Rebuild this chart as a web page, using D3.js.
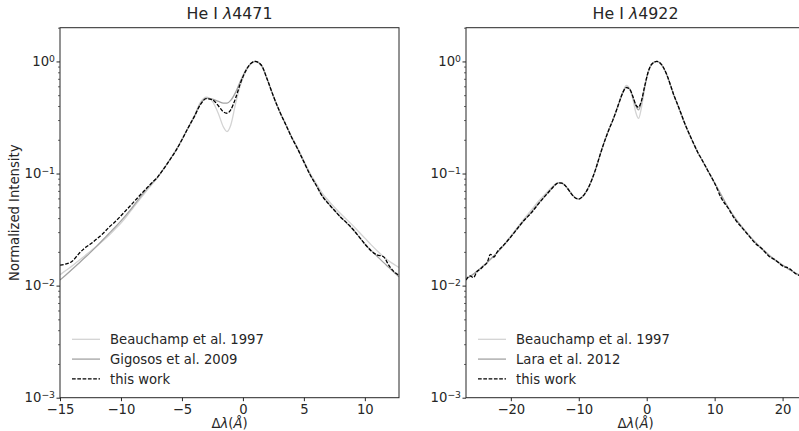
<!DOCTYPE html>
<html>
<head>
<meta charset="utf-8">
<script src="https://cdn.jsdelivr.net/npm/d3@7/dist/d3.min.js"></script>
<style>
	body { margin: 0; background: #fff; }
	svg { display: block; font-family: "DejaVu Sans", sans-serif; }
</style>
</head>
<body>
<svg id="chart" width="799" height="431"></svg>
<script>
// He I 4471 panel
var wave4471 = [-15, -14.5, -14, -13.5, -13, -12.5, -12, -11.5, -11, -10.5, -10, -9.5, -9, -8.5, -8, -7.5, -7, -6.5, -6, -5.5, -5, -4.5, -4, -3.5, -3, -2.5, -2, -1.6, -1.3, -1, -0.6, -0.2, 0.3, 0.7, 1, 1.5, 2, 2.5, 3, 3.5, 4, 4.5, 5, 5.5, 6, 6.5, 7, 7.5, 8, 8.5, 9, 9.5, 10, 10.5, 11, 11.5, 12, 12.5, 12.8];
var beauchamp4471 = [0.0125, 0.0137, 0.0150, 0.0166, 0.0183, 0.0203, 0.0225, 0.0250, 0.0280, 0.0318, 0.0362, 0.0420, 0.0495, 0.0580, 0.0680, 0.0790, 0.0920, 0.1100, 0.1330, 0.1620, 0.2020, 0.2560, 0.3250, 0.4300, 0.4800, 0.4400, 0.3400, 0.2600, 0.2370, 0.2700, 0.4200, 0.6200, 0.8400, 0.9600, 0.9900, 0.9200, 0.6850, 0.4900, 0.3620, 0.2770, 0.2130, 0.1680, 0.1300, 0.1010, 0.0820, 0.0670, 0.0575, 0.0500, 0.0440, 0.0390, 0.0345, 0.0302, 0.0265, 0.0232, 0.0205, 0.0182, 0.0165, 0.0152, 0.0145];
var gigosos4471 = [0.0112, 0.0125, 0.0140, 0.0157, 0.0176, 0.0198, 0.0224, 0.0255, 0.0290, 0.0330, 0.0378, 0.0437, 0.0510, 0.0600, 0.0705, 0.0810, 0.0925, 0.1100, 0.1320, 0.1600, 0.2000, 0.2550, 0.3200, 0.4150, 0.4700, 0.4600, 0.4400, 0.4250, 0.4250, 0.4500, 0.5300, 0.6700, 0.8600, 0.9700, 1.0000, 0.9300, 0.6900, 0.4900, 0.3600, 0.2750, 0.2100, 0.1650, 0.1270, 0.0980, 0.0790, 0.0635, 0.0545, 0.0470, 0.0410, 0.0362, 0.0318, 0.0275, 0.0235, 0.0207, 0.0183, 0.0162, 0.0144, 0.0128, 0.0120];
var thisWork4471 = [0.0152, 0.0156, 0.0165, 0.0190, 0.0215, 0.0235, 0.0260, 0.0290, 0.0330, 0.0370, 0.0420, 0.0480, 0.0550, 0.0630, 0.0720, 0.0820, 0.0930, 0.1100, 0.1320, 0.1600, 0.2000, 0.2550, 0.3200, 0.4100, 0.4650, 0.4550, 0.4000, 0.3550, 0.3450, 0.3700, 0.4700, 0.6400, 0.8500, 0.9700, 1.0000, 0.9300, 0.6900, 0.4900, 0.3600, 0.2750, 0.2100, 0.1650, 0.1270, 0.0980, 0.0790, 0.0630, 0.0540, 0.0470, 0.0410, 0.0365, 0.0320, 0.0275, 0.0235, 0.0205, 0.0188, 0.0182, 0.0150, 0.0130, 0.0124];

// He I 4922 panel
var wave4922 = [-26.6, -26, -25.5, -25, -24.5, -24, -23.5, -23, -22.5, -22, -21, -20, -19, -18, -17, -16, -15, -14, -13.5, -13, -12.5, -12, -11.5, -11, -10.5, -10, -9.5, -9, -8.5, -8, -7.5, -7, -6.5, -6, -5.5, -5, -4.5, -4, -3.5, -3, -2.5, -2, -1.6, -1.2, -0.8, -0.3, 0.2, 0.8, 1.5, 2, 2.5, 3, 3.5, 4, 4.5, 5, 5.5, 6, 6.5, 7, 7.5, 8, 9, 10, 11, 12, 13, 14, 15, 16, 17, 18, 19, 20, 21, 22, 23.3];
var beauchamp4922 = [0.0115, 0.0121, 0.0127, 0.0134, 0.0142, 0.0151, 0.0161, 0.0172, 0.0184, 0.0198, 0.0232, 0.0278, 0.0332, 0.0398, 0.0470, 0.0560, 0.0650, 0.0750, 0.0800, 0.0830, 0.0825, 0.0785, 0.0720, 0.0655, 0.0610, 0.0595, 0.0620, 0.0675, 0.0765, 0.0905, 0.1100, 0.1380, 0.1720, 0.2100, 0.2520, 0.2980, 0.3600, 0.4450, 0.5400, 0.6100, 0.5700, 0.4500, 0.3500, 0.3100, 0.3800, 0.5700, 0.7900, 0.9550, 1.0000, 0.9600, 0.8700, 0.7450, 0.6100, 0.4950, 0.4150, 0.3450, 0.2880, 0.2430, 0.2080, 0.1790, 0.1550, 0.1370, 0.1070, 0.0830, 0.0640, 0.0500, 0.0405, 0.0337, 0.0285, 0.0245, 0.0214, 0.0189, 0.0169, 0.0153, 0.0140, 0.0129, 0.0118];
var lara4922 = [0.0115, 0.0121, 0.0127, 0.0134, 0.0142, 0.0151, 0.0161, 0.0172, 0.0184, 0.0198, 0.0230, 0.0272, 0.0325, 0.0385, 0.0450, 0.0535, 0.0628, 0.0735, 0.0790, 0.0825, 0.0820, 0.0780, 0.0715, 0.0650, 0.0605, 0.0592, 0.0618, 0.0675, 0.0765, 0.0905, 0.1100, 0.1380, 0.1720, 0.2100, 0.2520, 0.2980, 0.3600, 0.4400, 0.5300, 0.5900, 0.5650, 0.4750, 0.4000, 0.3700, 0.4300, 0.5950, 0.8000, 0.9550, 1.0000, 0.9650, 0.8750, 0.7500, 0.6150, 0.5000, 0.4200, 0.3500, 0.2900, 0.2450, 0.2100, 0.1800, 0.1550, 0.1370, 0.1060, 0.0820, 0.0635, 0.0495, 0.0400, 0.0333, 0.0282, 0.0242, 0.0211, 0.0186, 0.0167, 0.0152, 0.0139, 0.0128, 0.0118];
var thisWork4922 = [0.0112, 0.0122, 0.0118, 0.0133, 0.0140, 0.0150, 0.0160, 0.0190, 0.0180, 0.0200, 0.0232, 0.0272, 0.0325, 0.0385, 0.0445, 0.0530, 0.0625, 0.0730, 0.0790, 0.0825, 0.0820, 0.0780, 0.0715, 0.0648, 0.0605, 0.0592, 0.0618, 0.0675, 0.0765, 0.0905, 0.1100, 0.1380, 0.1720, 0.2100, 0.2520, 0.2980, 0.3600, 0.4400, 0.5300, 0.5850, 0.5650, 0.4800, 0.4100, 0.3900, 0.4400, 0.6000, 0.8000, 0.9550, 1.0000, 0.9650, 0.8750, 0.7500, 0.6150, 0.5000, 0.4200, 0.3500, 0.2900, 0.2450, 0.2100, 0.1800, 0.1550, 0.1370, 0.1060, 0.0820, 0.0600, 0.0490, 0.0390, 0.0330, 0.0280, 0.0238, 0.0212, 0.0183, 0.0168, 0.0150, 0.0142, 0.0127, 0.0120];

var yTicks = [1e-3, 1e-2, 1e-1, 1e0];

var panels = [
	{
		id: "a", left: 60, xDomain: [-15, 12.8], xTicks: [-15, -10, -5, 0, 5, 10],
		title: "4471", x: wave4471,
		series: [
			{name: "Beauchamp et al. 1997", values: beauchamp4471, color: "#d3d3d3", dash: null},
			{name: "Gigosos et al. 2009", values: gigosos4471, color: "#a3a3a3", dash: null},
			{name: "this work", values: thisWork4471, color: "#000", dash: "3.7,1.6"}
		]
	},
	{
		id: "b", left: 466, xDomain: [-26.6, 23.3], xTicks: [-20, -10, 0, 10, 20],
		title: "4922", x: wave4922,
		series: [
			{name: "Beauchamp et al. 1997", values: beauchamp4922, color: "#d3d3d3", dash: null},
			{name: "Lara et al. 2012", values: lara4922, color: "#a3a3a3", dash: null},
			{name: "this work", values: thisWork4922, color: "#000", dash: "3.7,1.6"}
		]
	}
];

var marginTop = 27.7, height = 370, width = 339,
	axisColor = "#262626", fontSize = 13.2;

var svg = d3.select("#chart");

panels.forEach(function(p) {
	var x = d3.scaleLinear().domain(p.xDomain).range([0, width]);
	var y = d3.scaleLog().domain([1e-3, 2]).range([height, 0]);

	var g = svg.append("g")
		.attr("transform", "translate(" + p.left + "," + marginTop + ")");

	g.append("clipPath")
		.attr("id", "clip-" + p.id)
		.append("rect")
		.attr("width", width)
		.attr("height", height);

	var line = d3.line()
		.x(function(d) { return x(d[0]); })
		.y(function(d) { return y(d[1]); })
		.curve(d3.curveMonotoneX);

	var plot = g.append("g").attr("clip-path", "url(#clip-" + p.id + ")");
	p.series.forEach(function(s) {
		plot.append("path")
			.datum(p.x.map(function(v, i) { return [v, s.values[i]]; }))
			.attr("fill", "none")
			.attr("stroke", s.color)
			.attr("stroke-width", 1.3)
			.attr("stroke-dasharray", s.dash)
			.attr("stroke-linejoin", "round")
			.attr("d", line);
	});

	// x axis
	var xAxis = g.append("g")
		.attr("transform", "translate(0," + height + ")")
		.call(d3.axisBottom(x).tickValues(p.xTicks).tickSize(3.5).tickPadding(3)
			.tickFormat(function(d) { return d < 0 ? "\u2212" + Math.abs(d) : d; }));
	xAxis.select(".domain").remove();
	xAxis.selectAll("line").attr("stroke", axisColor);
	xAxis.selectAll("text")
		.attr("fill", axisColor)
		.style("font-family", "DejaVu Sans")
		.style("font-size", fontSize + "px");

	// y axis: major + minor log ticks
	var minor = [];
	for (var k = -3; k <= 0; k++) {
		for (var m = 2; m <= 9; m++) {
			if (m * Math.pow(10, k) <= 2) minor.push(m * Math.pow(10, k));
		}
	}
	var yMinor = g.append("g")
		.call(d3.axisLeft(y).tickValues(minor).tickSize(2).tickFormat(""));
	yMinor.select(".domain").remove();
	yMinor.selectAll("line").attr("stroke", axisColor).attr("stroke-width", 0.7);

	var yAxis = g.append("g")
		.call(d3.axisLeft(y).tickValues(yTicks).tickSize(3.5).tickFormat(""));
	yAxis.select(".domain").remove();
	yAxis.selectAll("line").attr("stroke", axisColor);
	yAxis.selectAll(".tick").each(function(d) {
		var t = d3.select(this).append("text")
			.attr("x", -5)
			.attr("dy", "0.32em")
			.attr("text-anchor", "end")
			.attr("fill", axisColor)
			.style("font-family", "DejaVu Sans")
			.style("font-size", fontSize + "px");
		t.append("tspan").text("10");
		t.append("tspan")
			.attr("dy", "-0.45em")
			.style("font-size", (fontSize * 0.7) + "px")
			.text(d3.format("d")(Math.round(Math.log10(d))).replace("-", "\u2212"));
	});

	// frame
	g.append("rect")
		.attr("width", width)
		.attr("height", height)
		.attr("fill", "none")
		.attr("stroke", axisColor)
		.attr("stroke-width", 1);

	// title
	var title = g.append("text")
		.attr("x", width / 2)
		.attr("y", -9)
		.attr("text-anchor", "middle")
		.attr("fill", axisColor)
		.style("font-size", "15.8px");
	title.append("tspan").text("He I ");
	title.append("tspan").style("font-style", "italic").text("\u03bb");
	title.append("tspan").text(p.title);

	// x label
	var xl = g.append("text")
		.attr("x", width / 2)
		.attr("y", height + 30)
		.attr("text-anchor", "middle")
		.attr("fill", axisColor)
		.style("font-size", fontSize + "px");
	xl.append("tspan").text("\u0394");
	xl.append("tspan").style("font-style", "italic").text("\u03bb");
	xl.append("tspan").text("(");
	xl.append("tspan").style("font-style", "italic").text("\u00c5");
	xl.append("tspan").text(")");

	// legend
	var legend = g.append("g").attr("transform", "translate(12," + (height - 58.4) + ")");
	p.series.forEach(function(s, i) {
		var row = legend.append("g").attr("transform", "translate(0," + (i * 19.8) + ")");
		row.append("line")
			.attr("x1", 0).attr("x2", 28)
			.attr("stroke", s.color)
			.attr("stroke-width", 1.3)
			.attr("stroke-dasharray", s.dash);
		row.append("text")
			.attr("x", 38)
			.attr("dy", "0.35em")
			.attr("fill", axisColor)
			.style("font-size", fontSize + "px")
			.text(s.name);
	});
});

// y label (left panel only)
svg.append("text")
	.attr("transform", "translate(19," + (marginTop + height / 2) + ") rotate(-90)")
	.attr("text-anchor", "middle")
	.attr("fill", axisColor)
	.style("font-size", fontSize + "px")
	.text("Normalized Intensity");
</script>
</body>
</html>
